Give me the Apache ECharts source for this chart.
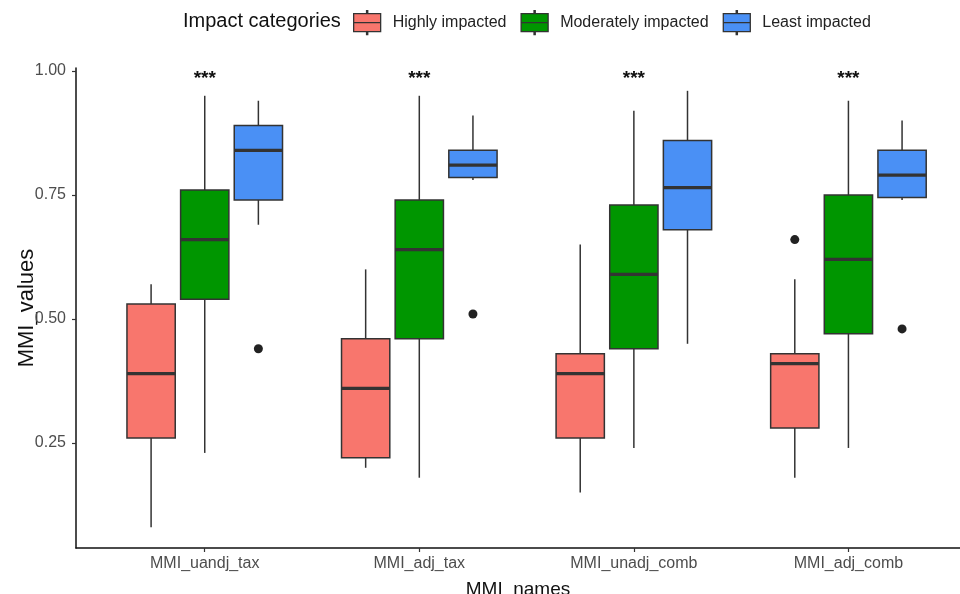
<!DOCTYPE html>
<html>
<head>
<meta charset="utf-8">
<script src="https://cdn.jsdelivr.net/npm/echarts@6/dist/echarts.min.js"></script>
<style>html,body{margin:0;padding:0;background:#fff}#c{width:960px;height:594px}</style>
</head>
<body>
<div id="c"></div>
<script>
// ---- data ----
const categories = ['MMI_uandj_tax', 'MMI_adj_tax', 'MMI_unadj_comb', 'MMI_adj_comb'];
const groupNames = ['Highly impacted', 'Moderately impacted', 'Least impacted'];
// [lower whisker, Q1, median, Q3, upper whisker] per category
const highlyStats = [
  [0.08, 0.26, 0.39, 0.53, 0.57],
  [0.20, 0.22, 0.36, 0.46, 0.60],
  [0.15, 0.26, 0.39, 0.43, 0.65],
  [0.18, 0.28, 0.41, 0.43, 0.58]
];
const moderatelyStats = [
  [0.23, 0.54, 0.66, 0.76, 0.95],
  [0.18, 0.46, 0.64, 0.74, 0.95],
  [0.24, 0.44, 0.59, 0.73, 0.92],
  [0.24, 0.47, 0.62, 0.75, 0.94]
];
const leastStats = [
  [0.69, 0.74, 0.84, 0.89, 0.94],
  [0.78, 0.785, 0.81, 0.84, 0.91],
  [0.45, 0.68, 0.765, 0.86, 0.96],
  [0.74, 0.745, 0.79, 0.84, 0.90]
];
// [category index, value]
const highlyOutliers = [[3, 0.66]];
const moderatelyOutliers = [];
const leastOutliers = [[0, 0.44], [1, 0.51], [3, 0.48]];
const sigLabels = ['***', '***', '***', '***'];
const sigY = 0.984;
const yTicks = [0.25, 0.50, 0.75, 1.00];

// ---- styling / layout ----
const colors = ['#f8766d', '#009600', '#4a90f5'];
const dodgeStep = 0.25;     // ggplot position_dodge (0.75 / 3)
const boxFrac = 0.225;      // box width in category units
const edge = '#333333';
const font = 'Liberation Sans, Arial, Helvetica, sans-serif';

const allStats = [highlyStats, moderatelyStats, leastStats];
const allOutliers = [highlyOutliers, moderatelyOutliers, leastOutliers];
const dodge = [-dodgeStep, 0, dodgeStep];

function makeRender(sIdx) {
  return function (params, api) {
    const x = api.value(0) + dodge[sIdx];
    const pLo = api.coord([x, api.value(1)]);
    const pQ1 = api.coord([x, api.value(2)]);
    const pMd = api.coord([x, api.value(3)]);
    const pQ3 = api.coord([x, api.value(4)]);
    const pHi = api.coord([x, api.value(5)]);
    const half = api.size([boxFrac, 0])[0] / 2;
    const color = colors[sIdx];
    const ls = { stroke: edge, lineWidth: 1.5 };
    return {
      type: 'group',
      children: [
        { type: 'line', shape: { x1: pHi[0], y1: pHi[1], x2: pQ3[0], y2: pQ3[1] }, style: ls },
        { type: 'line', shape: { x1: pQ1[0], y1: pQ1[1], x2: pLo[0], y2: pLo[1] }, style: ls },
        { type: 'rect', shape: { x: pQ3[0] - half, y: pQ3[1], width: half * 2, height: pQ1[1] - pQ3[1] },
          style: { fill: color, stroke: edge, lineWidth: 1.5 } },
        { type: 'line', shape: { x1: pMd[0] - half, y1: pMd[1], x2: pMd[0] + half, y2: pMd[1] },
          style: { stroke: edge, lineWidth: 3.2 } }
      ]
    };
  };
}

const series = [];
groupNames.forEach(function (name, s) {
  series.push({
    name: name,
    type: 'custom',
    renderItem: makeRender(s),
    itemStyle: { color: colors[s], borderColor: edge, borderWidth: 1.2 },
    encode: { x: 0, y: [1, 2, 3, 4, 5] },
    data: allStats[s].map(function (st, i) { return [i + 1].concat(st); }),
    silent: true
  });
});
groupNames.forEach(function (name, s) {
  if (!allOutliers[s].length) return;
  series.push({
    name: name + ' outliers',
    type: 'scatter',
    symbolSize: 9,
    itemStyle: { color: '#222', opacity: 1 },
    data: allOutliers[s].map(function (o) { return [o[0] + 1 + dodge[s], o[1]]; }),
    silent: true
  });
});
series.push({
  name: 'sig',
  type: 'custom',
  encode: { x: 0, y: 1 },
  data: sigLabels.map(function (t, i) { return [i + 1, sigY]; }),
  renderItem: function (params, api) {
    const p = api.coord([api.value(0), api.value(1)]);
    return { type: 'text', x: p[0], y: p[1],
      style: { text: sigLabels[params.dataIndex], fill: '#111', font: 'bold 19px ' + font,
        textAlign: 'center', textVerticalAlign: 'middle' } };
  },
  silent: true
});

const legendIcon = 'path://M12.9 0L14.1 0L14.1 3L12.9 3Z M0 3L27 3L27 12L0 12Z M0 12L27 12L27 21L0 21Z M12.9 21L14.1 21L14.1 24L12.9 24Z';

const chart = echarts.init(document.getElementById('c'), null, { renderer: 'canvas' });
chart.setOption({
  backgroundColor: '#ffffff',
  animation: false,
  textStyle: { fontFamily: font },
  title: {
    text: 'Impact categories', left: 183, top: 11, padding: 0,
    textStyle: { fontSize: 20, fontWeight: 'normal', color: '#111', fontFamily: font }
  },
  legend: {
    left: 353, top: 10, padding: 0,
    itemWidth: 27, itemHeight: 24, itemGap: 14,
    icon: legendIcon,
    data: groupNames,
    itemStyle: { borderColor: edge, borderWidth: 1.3 },
    textStyle: { fontSize: 16, color: '#222', fontFamily: font, padding: [0, 0, 0, 7] },
    selectedMode: false
  },
  grid: { left: 76, right: 0, top: 68, bottom: 46, containLabel: false, outerBoundsMode: 'none' },
  xAxis: {
    type: 'value', min: 0.4, max: 4.52,
    name: 'MMI_names', nameLocation: 'middle', nameGap: 32, nameMoveOverlap: false,
    nameTextStyle: { fontSize: 19, color: '#111', fontFamily: font },
    axisLine: { show: true, lineStyle: { color: '#111', width: 1.5 } },
    axisTick: { show: true, length: 4, customValues: [1, 2, 3, 4], lineStyle: { color: '#333', width: 1.2 } },
    axisLabel: { customValues: [1, 2, 3, 4], margin: 8, fontSize: 16, color: '#4d4d4d', fontFamily: font,
      formatter: function (v) { return categories[Math.round(v) - 1] || ''; } },
    splitLine: { show: false }
  },
  yAxis: {
    type: 'value', min: 0.0383, max: 1.006,
    name: 'MMI_values', nameLocation: 'middle', nameGap: 38, nameRotate: 90, nameMoveOverlap: false,
    nameTextStyle: { fontSize: 22, color: '#111', fontFamily: font },
    axisLine: { show: true, lineStyle: { color: '#111', width: 1.5 } },
    axisTick: { show: true, length: 4, customValues: yTicks, lineStyle: { color: '#333', width: 1.2 } },
    axisLabel: { customValues: yTicks, margin: 10, fontSize: 16, color: '#4d4d4d', fontFamily: font,
      formatter: function (v) { return Number(v).toFixed(2); } },
    splitLine: { show: false }
  },
  series: series
});
</script>
</body>
</html>
